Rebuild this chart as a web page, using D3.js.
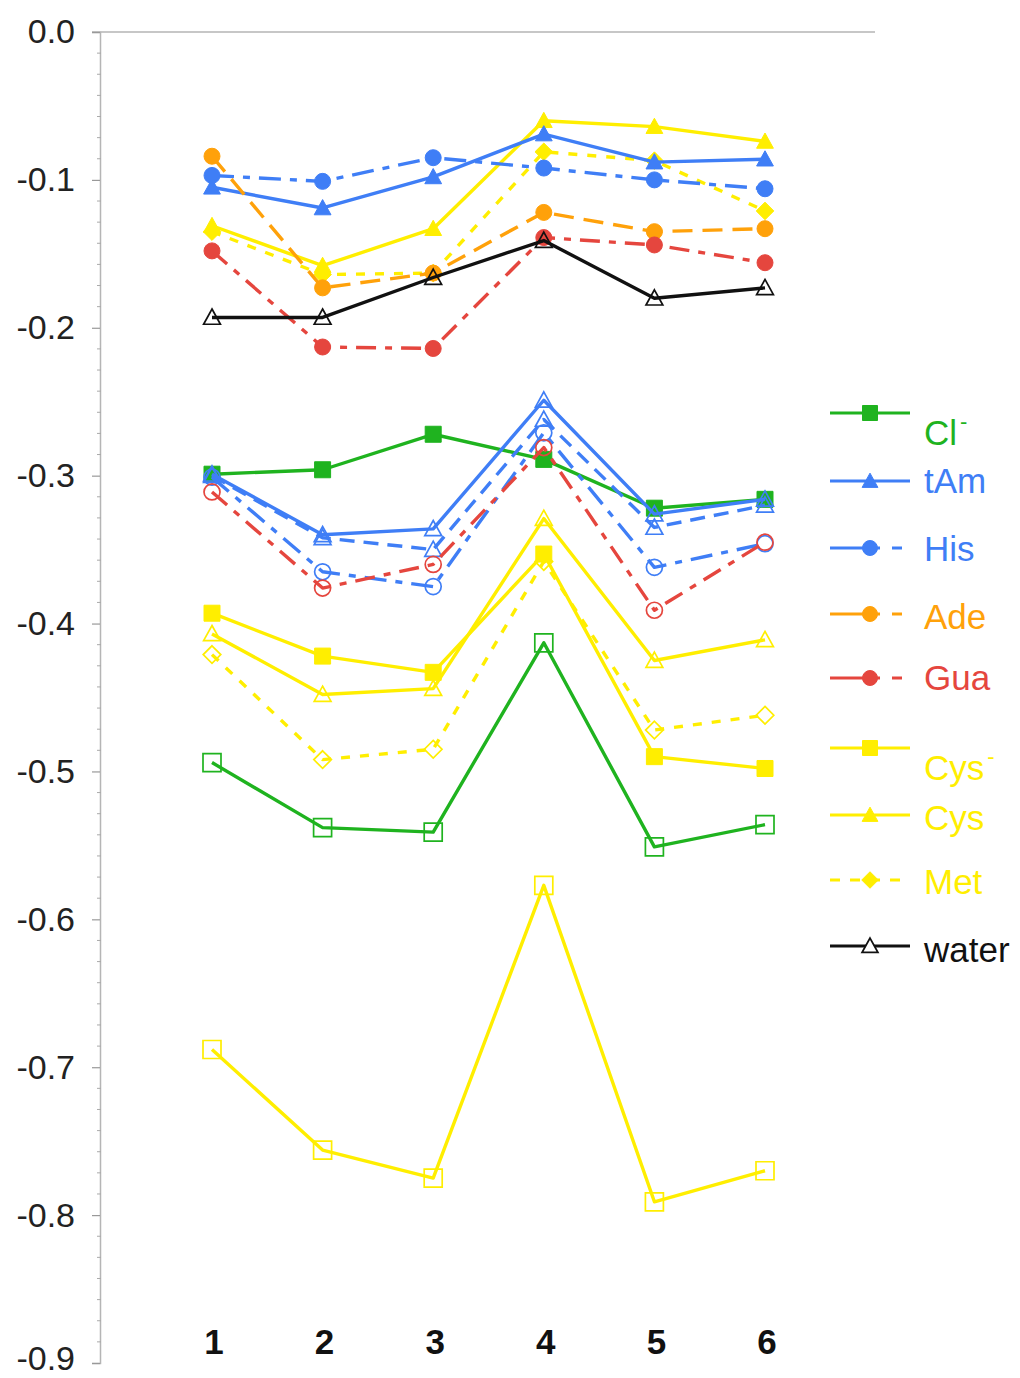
<!DOCTYPE html>
<html><head><meta charset="utf-8">
<script src="https://cdn.jsdelivr.net/npm/d3@7"></script>
<style>body{margin:0;background:#fff;} svg{display:block;font-family:"Liberation Sans",Arial,sans-serif;}</style>
</head><body>
<svg id="c" width="1020" height="1378"></svg>
<script>
// ---- data ----
const categories = [1, 2, 3, 4, 5, 6];
const yTickValues = [0, -0.1, -0.2, -0.3, -0.4, -0.5, -0.6, -0.7, -0.8, -0.9];

// filled-marker series (upper set)
const clFilled   = [-0.299, -0.296, -0.272, -0.289, -0.322, -0.316];
const tAmFilled  = [-0.105, -0.119, -0.098, -0.069, -0.088, -0.086];
const hisFilled  = [-0.097, -0.101, -0.085, -0.092, -0.100, -0.106];
const adeFilled  = [-0.084, -0.173, -0.163, -0.122, -0.135, -0.133];
const guaFilled  = [-0.148, -0.213, -0.214, -0.139, -0.144, -0.156];
const cysmFilled = [-0.393, -0.422, -0.433, -0.353, -0.490, -0.498];
const cysFilled  = [-0.131, -0.158, -0.133, -0.060, -0.064, -0.074];
const metFilled  = [-0.135, -0.164, -0.163, -0.081, -0.087, -0.121];
const water      = [-0.193, -0.193, -0.166, -0.141, -0.180, -0.173];

// open-marker series (lower set)
const clOpen     = [-0.494, -0.538, -0.541, -0.413, -0.551, -0.536];
const tAmOpen    = [-0.299, -0.340, -0.336, -0.249, -0.326, -0.316];
const tAmOpen2   = [-0.300, -0.342, -0.350, -0.262, -0.335, -0.320];
const hisOpen    = [-0.301, -0.365, -0.375, -0.271, -0.362, -0.346];
const guaOpen    = [-0.311, -0.376, -0.360, -0.281, -0.391, -0.345];
const cysmOpen   = [-0.688, -0.756, -0.775, -0.577, -0.791, -0.770];
const cysOpen    = [-0.407, -0.448, -0.444, -0.329, -0.425, -0.411];
const metOpen    = [-0.421, -0.492, -0.485, -0.358, -0.472, -0.462];

const legendNames = ["Cl", "tAm", "His", "Ade", "Gua", "Cys", "Cys", "Met", "water"];

// ---- styles ----
const C = {green:"#1fb31f", blue:"#3f7ef6", orange:"#ffa10a", red:"#e5463e", yellow:"#ffee00", black:"#111"};
const DASH = {solid:null, his:"22,9,7,9", ade:"20,10", gua:"20,9,7,9", met:"9,10", bl:"15,9"};

const series = [
  {v:cysmOpen,  c:C.yellow, d:DASH.solid, m:"square",   f:false},
  {v:cysmFilled,c:C.yellow, d:DASH.solid, m:"square",   f:true},
  {v:cysOpen,   c:C.yellow, d:DASH.solid, m:"triangle", f:false},
  {v:cysFilled, c:C.yellow, d:DASH.solid, m:"triangle", f:true},
  {v:metOpen,   c:C.yellow, d:DASH.met,   m:"diamond",  f:false},
  {v:metFilled, c:C.yellow, d:DASH.met,   m:"diamond",  f:true},
  {v:clOpen,    c:C.green,  d:DASH.solid, m:"square",   f:false},
  {v:clFilled,  c:C.green,  d:DASH.solid, m:"square",   f:true},
  {v:hisOpen,   c:C.blue,   d:DASH.his,   m:"circle",   f:false},
  {v:tAmOpen2,  c:C.blue,   d:DASH.bl,    m:"triangle", f:false},
  {v:tAmOpen,   c:C.blue,   d:DASH.solid, m:"triangle", f:false},
  {v:tAmFilled, c:C.blue,   d:DASH.solid, m:"triangle", f:true},
  {v:hisFilled, c:C.blue,   d:DASH.his,   m:"circle",   f:true},
  {v:adeFilled, c:C.orange, d:DASH.ade,   m:"circle",   f:true},
  {v:guaOpen,   c:C.red,    d:DASH.gua,   m:"circle",   f:false},
  {v:guaFilled, c:C.red,    d:DASH.gua,   m:"circle",   f:true},
  {v:water,     c:C.black,  d:DASH.solid, m:"triangle", f:false},
];

const legendItems = [
  {name:legendNames[0], sup:"-", c:C.green,  d:null,        m:"square"},
  {name:legendNames[1], c:C.blue,   d:null,         m:"triangle"},
  {name:legendNames[2], c:C.blue,   d:"50,12,10,40", m:"circle"},
  {name:legendNames[3], c:C.orange, d:"50,12,10,40", m:"circle"},
  {name:legendNames[4], c:C.red,    d:"50,12,10,40", m:"circle"},
  {name:legendNames[5], sup:"-", c:C.yellow, d:null,   m:"square"},
  {name:legendNames[6], c:C.yellow, d:null,         m:"triangle"},
  {name:legendNames[7], c:C.yellow, d:"10,10",      m:"diamond"},
  {name:legendNames[8], c:C.black,  d:null,         m:"triangle", open:true},
];

// ---- scales ----
const svg = d3.select("#c");
const x = d3.scaleLinear().domain([1, 6]).range([212, 765]);
const y = d3.scaleLinear().domain([0, -0.9]).range([32, 1363]);

// axis frame
svg.append("line").attr("x1", 92).attr("x2", 875).attr("y1", y(0)).attr("y2", y(0))
  .attr("stroke", "#b5b5b5").attr("stroke-width", 1.5);
const yAxis = d3.axisLeft(y).tickValues(yTickValues).tickSize(8).tickFormat(d3.format(".1f"));
const ga = svg.append("g").attr("transform", "translate(100,0)").call(yAxis);
ga.select(".domain").attr("stroke", "#b5b5b5").attr("stroke-width", 1.5);
ga.selectAll(".tick line").attr("stroke", "#999").attr("stroke-width", 1.2);
ga.selectAll(".tick text").attr("font-size", 34).attr("fill", "#222").attr("x", -25)
  .attr("font-family", "Liberation Sans, Arial, sans-serif")
  .attr("dy", d => d === -0.9 ? "0.2em" : "0.32em")
  .text(d => d === 0 ? "0.0" : d3.format(".1f")(d).replace("−", "-"));
// minor ticks
const minor = [];
for (let i = 0; i < 9; i++) for (let k = 1; k < 7; k++) minor.push(-(i + k / 7) / 10);
svg.append("g").selectAll("line").data(minor).join("line")
  .attr("x1", 97).attr("x2", 101).attr("y1", d => y(d)).attr("y2", d => y(d))
  .attr("stroke", "#aaa").attr("stroke-width", 1);

// x labels
svg.append("g").selectAll("text").data(categories).join("text")
  .attr("x", d => x(d) + 2).attr("y", 1354).attr("text-anchor", "middle")
  .attr("font-size", 35).attr("font-weight", "bold").attr("fill", "#111").text(d => d);

// markers
function markerPath(type, s) {
  const h = s / 2;
  if (type === "square") return `M${-h},${-h}H${h}V${h}H${-h}Z`;
  if (type === "triangle") return `M0,${-h * 1.05}L${h * 1.05},${h * 0.85}L${-h * 1.05},${h * 0.85}Z`;
  if (type === "diamond") return `M0,${-h * 1.1}L${h * 1.1},0L0,${h * 1.1}L${-h * 1.1},0Z`;
  return d3.arc()({innerRadius: 0, outerRadius: h, startAngle: 0, endAngle: 2 * Math.PI});
}

const line = d3.line().x((d, i) => x(categories[i])).y(d => y(d));
series.forEach(s => {
  const g = svg.append("g");
  g.append("path").attr("d", line(s.v)).attr("fill", "none").attr("stroke", s.c)
    .attr("stroke-width", 3.4).attr("stroke-dasharray", s.d).attr("stroke-linejoin", "round");
  const size = s.f ? 16 : (s.m === "square" ? 18 : 16);
  g.selectAll("path.m").data(s.v).join("path").attr("class", "m")
    .attr("transform", (d, i) => `translate(${x(categories[i])},${y(d)})`)
    .attr("d", markerPath(s.m, size))
    .attr("fill", s.f ? s.c : "none").attr("stroke", s.c).attr("stroke-width", s.f ? 1 : 1.7);
});

// legend
const lg = svg.append("g");
const legendY = [413, 481, 548, 614, 678, 748, 815, 880, 946];
const textY = [433, 481, 549, 617, 678, 768, 818, 882, 950];
legendItems.forEach((it, i) => {
  const yy = legendY[i];
  lg.append("line").attr("x1", 830).attr("x2", 910).attr("y1", yy).attr("y2", yy)
    .attr("stroke", it.c).attr("stroke-width", 3.2).attr("stroke-dasharray", it.d);
  lg.append("path").attr("transform", `translate(870,${yy})`).attr("d", markerPath(it.m, 15))
    .attr("fill", it.open ? "#fff" : it.c).attr("stroke", it.c).attr("stroke-width", it.open ? 1.8 : 1);
  const t = lg.append("text").attr("x", 924).attr("y", textY[i]).attr("dy", "0.35em")
    .attr("font-size", 35).attr("fill", it.c).text(it.name);
  if (it.sup) t.append("tspan").attr("dy", "-0.75em").attr("dx", "3").attr("font-size", 22).text(it.sup);
});
</script>
</body></html>
